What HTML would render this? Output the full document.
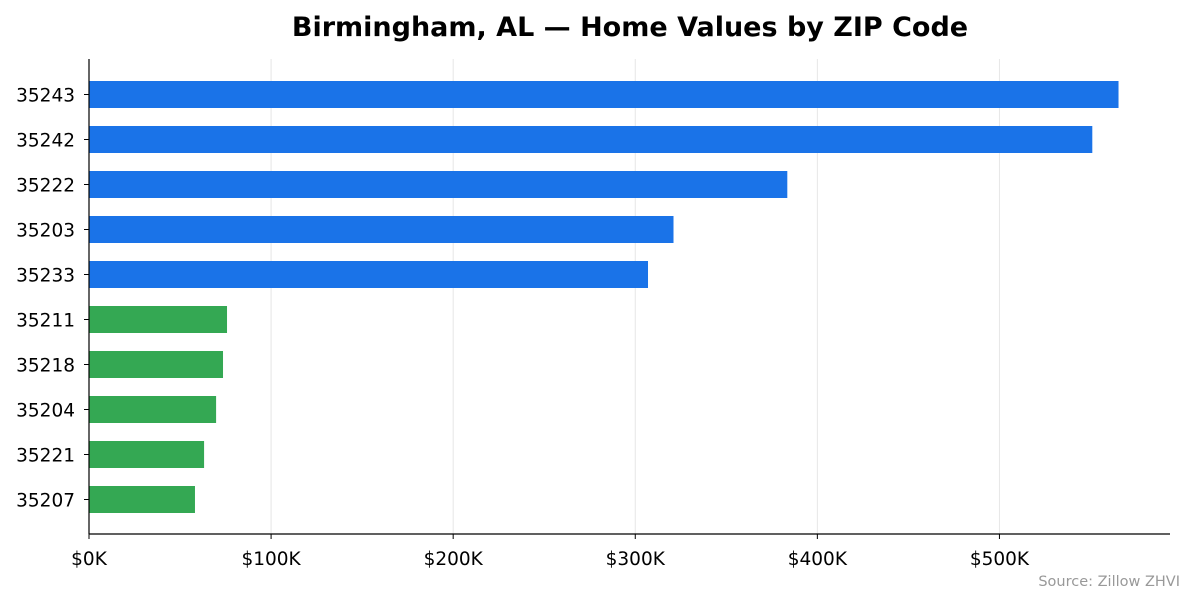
<!DOCTYPE html>
<html><head><meta charset="utf-8">
<style>
body{margin:0;background:#fff;font-family:"Liberation Sans","DejaVu Sans",sans-serif;}
svg text{font-family:"DejaVu Sans","Liberation Sans",sans-serif;}
</style></head>
<body>
<svg id="chart" width="1195" height="603">
<text x="630" y="36" text-anchor="middle" font-size="27" font-weight="bold" fill="#000">Birmingham, AL — Home Values by ZIP Code</text>
<g id="grid"></g>
<g id="bars"></g>
<g id="axes"></g>
<text x="1180" y="586" text-anchor="end" font-size="14.5" fill="#999">Source: Zillow ZHVI</text>
</svg>
<script>
const zips = ["35243","35242","35222","35203","35233","35211","35218","35204","35221","35207"];
const values = [565.4,551,383.5,321,307,75.8,73.6,69.8,63.2,58.2];
const groups = ["high","high","high","high","high","low","low","low","low","low"];
const ticks = [0,100,200,300,400,500];
const tickLabels = ["$0K","$100K","$200K","$300K","$400K","$500K"];

const NS="http://www.w3.org/2000/svg";
const L=89,R=1170,T=59,B=534;
const xmax=Math.max(...values)*1.05;
const x=v=>L+(v/xmax)*(R-L);
function mk(tag,attrs,parent){const e=document.createElementNS(NS,tag);for(const k in attrs)e.setAttribute(k,attrs[k]);parent.appendChild(e);return e;}
const grid=document.getElementById('grid'),bars=document.getElementById('bars'),axes=document.getElementById('axes');
ticks.forEach((t,i)=>{
  const gl=mk('line',{x1:x(t),x2:x(t),y1:T,y2:B,stroke:'#e6e6e6','stroke-width':1},grid);
  
  
  const tk=mk('line',{x1:x(t),x2:x(t),y1:B,y2:B+5,stroke:'#000'},axes);
  
  
  const tl=mk('text',{x:x(t),y:B+31,'text-anchor':'middle','font-size':18.5,fill:'#000'},axes);
  tl.textContent=tickLabels[i];
  
  
});
const bh=27;
zips.forEach((z,i)=>{
  const c=94.5+ (499.5-94.5)/(zips.length-1)*i;
  const r=mk('rect',{x:L,y:c-bh/2,width:x(values[i])-L,height:bh,fill:groups[i]==='high'?'#1a73e8':'#34a853'},bars);
  
  
  const tk=mk('line',{x1:L-5,x2:L,y1:c,y2:c,stroke:'#000'},axes);
  
  
  const tl=mk('text',{x:L-14,y:c+7,'text-anchor':'end','font-size':18.5,fill:'#000'},axes);
  tl.textContent=z;
  
  
});
const ya=mk('line',{x1:L,x2:L,y1:T,y2:B,stroke:'#000','stroke-width':1.2},axes);


const xa=mk('line',{x1:L,x2:R,y1:B,y2:B,stroke:'#000','stroke-width':1.2},axes);


</script>
</body></html>
